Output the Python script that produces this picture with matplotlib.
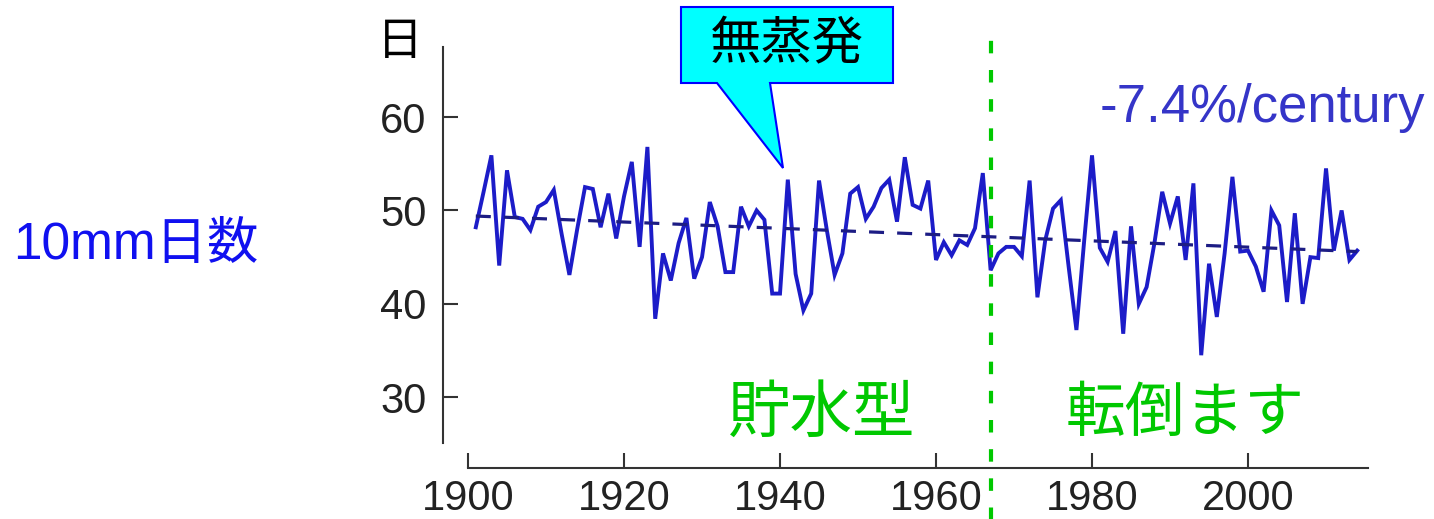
import numpy as np
import matplotlib.pyplot as plt
from matplotlib.patches import Polygon

# annual count of days with >= 10 mm precipitation
years = np.arange(1901, 2015)
days = [48.2, 52.0, 55.9, 44.1, 54.3, 49.3, 49.1, 47.9, 50.4, 50.9,
        52.2, 47.5, 43.1, 48.0, 52.5, 52.3, 48.2, 51.8, 47.0, 51.5,
        55.2, 46.1, 56.8, 38.4, 45.4, 42.5, 46.5, 49.2, 42.7, 45.0,
        50.9, 48.3, 43.4, 43.4, 50.4, 48.3, 50.0, 49.0, 41.1, 41.1,
        53.3, 43.2, 39.3, 41.1, 53.2, 47.9, 43.1, 45.4, 51.8, 52.5,
        49.1, 50.4, 52.4, 53.3, 48.8, 55.7, 50.6, 50.2, 53.2, 44.7,
        46.6, 45.2, 46.8, 46.3, 48.1, 54.0, 43.6, 45.4, 46.1, 46.1,
        45.1, 53.2, 40.7, 46.8, 50.2, 51.1, 44.0, 37.2, 46.8, 55.9,
        46.0, 44.5, 47.8, 36.8, 48.3, 40.0, 41.8, 46.5, 52.0, 48.6,
        51.5, 44.7, 52.9, 34.5, 44.3, 38.6, 45.4, 53.6, 45.6, 45.7,
        44.0, 41.3, 50.0, 48.4, 40.2, 49.7, 40.0, 45.0, 44.9, 54.5,
        45.7, 50.0, 44.7, 45.7]

trend_years = [1901, 2014]
trend_days = [49.4, 45.6]

switch_year = 1967
xticks = [1900, 1920, 1940, 1960, 1980, 2000]
yticks = [30, 40, 50, 60]

W, H = 1434, 519
fig = plt.figure(figsize=(W / 100, H / 100), dpi=100)
plt.rcParams['font.family'] = ['Liberation Sans', 'Noto Sans CJK JP']


def fx(px):
    return px / W


def fy(py):
    return 1 - py / H


# axes box in pixels: left 440, right 1380, top 40, bottom 480
ax = fig.add_axes([fx(440), fy(480), fx(1380) - fx(440), fy(40) - fy(480)])
ax.set_xlim(1896.41, 2016.92)
ax.set_ylim(21.14, 68.25)

ax.plot(years, days, color='#1c1cc8', lw=2.8, solid_joinstyle='miter')
ax.plot(trend_years, trend_days, color='#1c1c84', lw=2.3, dashes=(4.7, 4.1))

ax.axvline(switch_year, ymin=-0.09, ymax=1.011, color='#00c800', lw=3,
           dashes=(3, 4), clip_on=False)

for s in ['top', 'right']:
    ax.spines[s].set_visible(False)
ax.spines['left'].set_position(('data', 1896.8))
ax.spines['left'].set_bounds(25.1, 67.5)
ax.spines['bottom'].set_position(('data', 22.4))
ax.spines['bottom'].set_bounds(1900, 2015.4)
for s in ['left', 'bottom']:
    ax.spines[s].set_color('#333333')
    ax.spines[s].set_linewidth(1.5)

ax.set_xticks(xticks)
ax.set_yticks(yticks)
ax.tick_params(direction='in', length=11, width=1.5, color='#333333',
               labelsize=30, labelcolor='#222222')
ax.tick_params(axis='x', pad=8)
ax.tick_params(axis='y', pad=12)

# labels around the plot
fig.text(fx(13), fy(245), '10mm日数', fontsize=37, color='#1010f0',
         ha='left', va='center')
fig.text(fx(400), fy(43), '日', fontsize=33, color='black',
         ha='center', va='center')
fig.text(fx(1100), fy(122), '-7.4%/century', fontsize=38, color='#3535c8',
         ha='left', va='baseline')
fig.text(fx(822), fy(415), '貯水型', fontsize=45, color='#00c800',
         ha='center', va='center')
fig.text(fx(1185), fy(415), '転倒ます', fontsize=43, color='#00c800',
         ha='center', va='center')

# callout bubble
bubble = [(681, 7), (893, 7), (893, 83), (770, 83), (783, 168), (717, 83), (681, 83)]
fig.patches.append(Polygon([(fx(x), fy(y)) for x, y in bubble], closed=True,
                           transform=fig.transFigure, facecolor='#00ffff',
                           edgecolor='#0000ff', lw=1.5))
fig.text(fx(787), fy(46), '無蒸発', fontsize=37, color='black',
         ha='center', va='center')

fig.savefig('out.png', dpi=100)
